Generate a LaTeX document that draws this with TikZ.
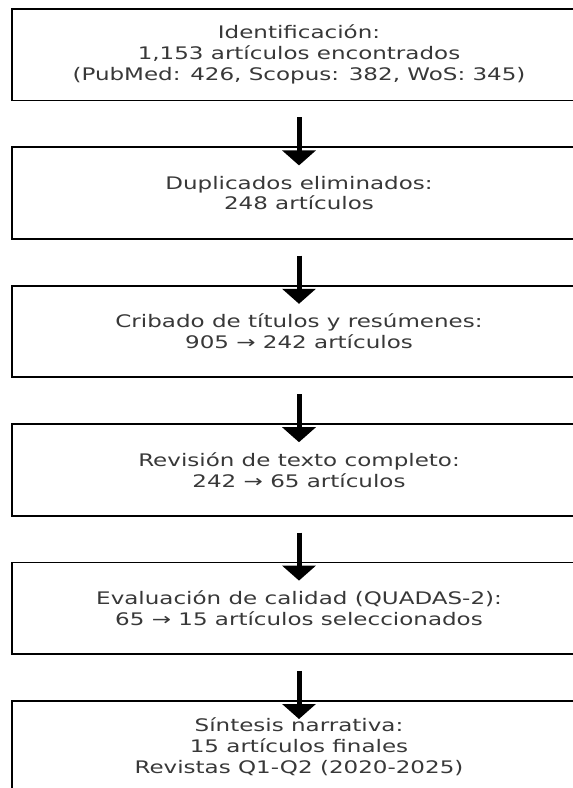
\documentclass[tikz,border=0pt]{standalone}
\usepackage{fontspec}
\setmainfont{DejaVu Sans}[FakeStretch=1.33]
\usetikzlibrary{arrows.meta}
\begin{document}
\begin{tikzpicture}[x=1pt,y=1pt,
  stage/.style={draw=black, line width=1.8pt, rectangle, minimum width=574pt, minimum height=91.5pt,
    anchor=north, align=center, text=black!78, inner sep=0pt,
    font=\fontsize{17.3}{20.8}\selectfont},
  flow/.style={line width=5pt, -{Triangle[width=33pt,length=15pt]}, shorten <=16pt, shorten >=-19pt}]
\useasboundingbox (0,0) rectangle (573,-788);
\clip (0,0) rectangle (573,-788);
\node[stage] (b1) at (299,-8) {Identificación:\\1,153 artículos encontrados\\(PubMed: 426, Scopus: 382, WoS: 345)};
\node[stage] (b2) at (299,-146.4) {Duplicados eliminados:\\248 artículos};
\node[stage] (b3) at (299,-284.8) {Cribado de títulos y resúmenes:\\905 → 242 artículos};
\node[stage] (b4) at (299,-423.2) {Revisión de texto completo:\\242 → 65 artículos};
\node[stage] (b5) at (299,-561.6) {Evaluación de calidad (QUADAS-2):\\65 → 15 artículos seleccionados};
\node[stage] (b6) at (299,-700) {Síntesis narrativa:\\15 artículos finales\\Revistas Q1-Q2 (2020-2025)};
\draw[flow] (b1.south) -- (b2.north);
\draw[flow] (b2.south) -- (b3.north);
\draw[flow] (b3.south) -- (b4.north);
\draw[flow] (b4.south) -- (b5.north);
\draw[flow] (b5.south) -- (b6.north);
\end{tikzpicture}
\end{document}
